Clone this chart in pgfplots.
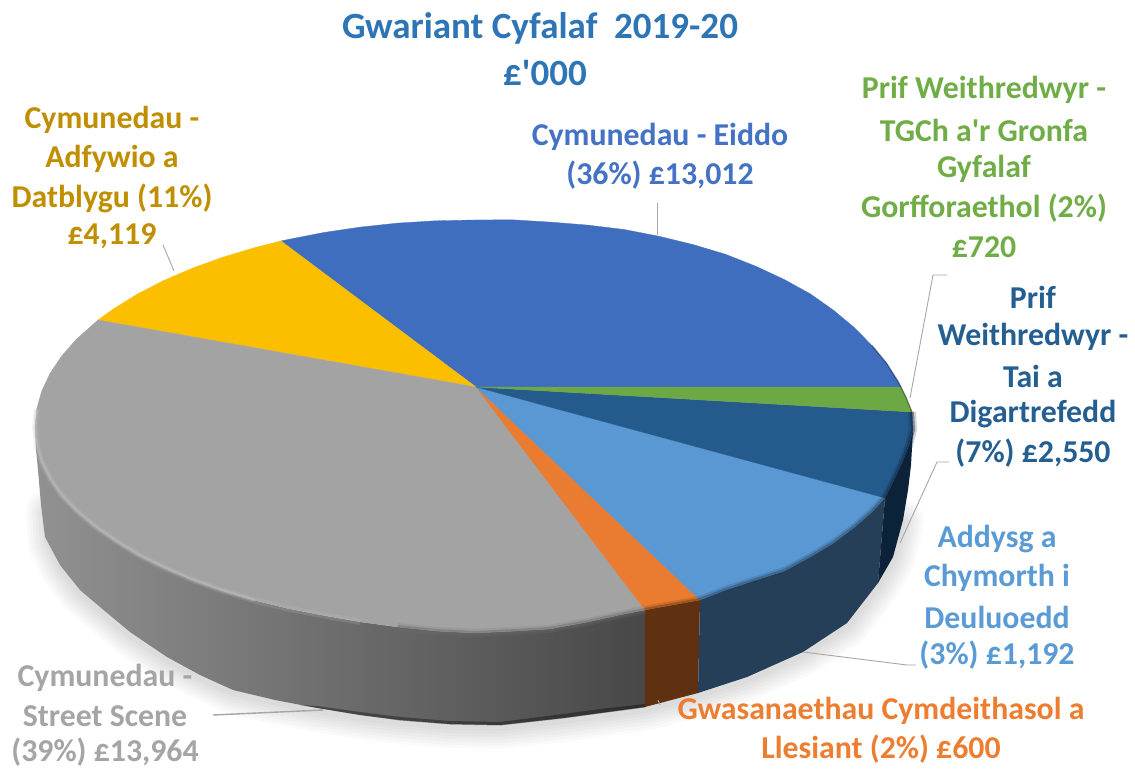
\documentclass[border=0pt]{standalone}
\usepackage{pgfplots}
\usepackage{pgfplotstable}
\pgfplotsset{compat=1.18}
\usepackage{fontspec}
\setmainfont{Carlito}
\definecolor{cBlue}{HTML}{3F6EBE}
\definecolor{cBlueT}{HTML}{4472C4}
\definecolor{cGreen}{HTML}{6CA844}
\definecolor{cGreenT}{HTML}{70AD47}
\definecolor{cNavy}{HTML}{245A8C}
\definecolor{cNavyT}{HTML}{255E91}
\definecolor{cLight}{HTML}{5A98D4}
\definecolor{cLightT}{HTML}{5B9BD5}
\definecolor{cOrange}{HTML}{E97C30}
\definecolor{cOrangeT}{HTML}{ED7D31}
\definecolor{cGrey}{HTML}{A3A3A3}
\definecolor{cGreyT}{HTML}{A5A5A5}
\definecolor{cYellow}{HTML}{FBBF00}
\definecolor{cYellowT}{HTML}{BF8F00}
\definecolor{cTitle}{HTML}{2E75B6}
\definecolor{cLead}{HTML}{A6A6A6}
\definecolor{HTMLOrangeSide}{HTML}{5F3110}
\definecolor{HTMLBlueSide}{HTML}{243F57}
\definecolor{HTMLNavySide}{HTML}{0C2238}
\pgfplotstableread{
x y
48 510
50 540
62 566
80 590
100 607
130 632
167 657
200 675
233 690
275 700
317 708
360 715
400 720
450 724
500 725
563 718
600 713
645 707
698 693
747 677
803 652
847 623
878 583
893 557
902 520
}\shadowedge
\pgfplotstableread{
x y
36.7 409
35 427
36.7 445
41.7 462
50 478.6
61.5 495
76.1 510.5
93.8 525.5
114.4 540
137.7 554.6
163.6 567.4
191.8 579.6
222.2 590.6
254.5 600.3
288.5 608.6
323.9 615.5
360.4 621.9
}\rimleft
\pgfplotstableread{
x y
36.7 409
35 427
36.7 445
41.7 462
50 478.6
61.5 495
76.1 510.5
93.8 525.5
114.4 540
137.7 554.6
163.6 567.4
191.8 579.6
222.2 590.6
254.5 600.3
}\rimleftshort
\pgfplotstableread{
x y
397.8 627
435.7 631
474 633
512.3 631.2
550.2 628.9
587.6 622
624.1 614
645 610
}\rimright
\pgfplotstableread{
x y
700 600
725.8 590
756.2 580
784.4 571
810.3 557
833.6 543
854.2 527.5
871.9 512
885 498
}\rimblue
\pgfplotstableread{
x y
885 498
893 482
902 463
909 445
913 430
912 412
}\rimnavy
\tikzset{lab/.style={inner sep=0pt,font=\fontsize{31.8}{38}\selectfont\bfseries,anchor=center},
ttl/.style={inner sep=0pt,font=\fontsize{37}{44}\selectfont\bfseries,anchor=center,text=cTitle},
shd/.style={draw=black,opacity=0.02,line join=round,line cap=round,yshift=-2pt}}
\begin{document}
\begin{tikzpicture}
\begin{axis}[scale only axis,width=1135pt,height=770pt,xmin=0,xmax=1135,ymin=0,ymax=770,y dir=reverse,
 hide axis,clip=false,no markers]
\addplot[fill=white,draw=none] coordinates {(0,0)(1135,0)(1135,770)(0,770)} --cycle;
% soft shadow
\addplot[shd,line width=44pt] table {\shadowedge};
\addplot[shd,line width=38pt] table {\shadowedge};
\addplot[shd,line width=32pt] table {\shadowedge};
\addplot[shd,line width=26pt] table {\shadowedge};
\addplot[shd,line width=20pt] table {\shadowedge};
\addplot[shd,line width=14pt] table {\shadowedge};
\addplot[shd,line width=8pt] table {\shadowedge};
% sides
\addplot[draw=none,left color=black!43,middle color=black!58,right color=black!72] coordinates {(35,427)(36.7,445)(41.7,462)(50,478.6)(61.5,495)(76.1,510.5)(93.8,525.5)(114.4,540)(137.7,554.6)(163.6,567.4)(191.8,579.6)(222.2,590.6)(254.5,600.3)(288.5,608.6)(323.9,615.5)(360.4,621.9)(397.8,627)(435.7,631)(474,633)(512.3,631.2)(550.2,628.9)(587.6,622)(624.1,614)(645,610)(645,707)(600,713)(563,718)(500,725)(450,724)(400,720)(360,715)(317,708)(275,700)(233,690)(200,675)(167,657)(130,632)(100,607)(80,590)(60,565)(45,537)(41,505)(38,470)(36,450)} --cycle;
\addplot[draw=none,fill=black,opacity=0.35] coordinates {(300,705)(360,715)(400,720.5)(450,724.5)(500,725.5)(563,718.5)(600,713.5)(645,707.5)(645,704)(600,709)(563,714)(500,722)(450,721)(400,717)(360,712)(317,706)} --cycle;
\addplot[draw=none,fill=HTMLOrangeSide] coordinates {(645,610)(700,600)(698,693)(645,707)} --cycle;
\addplot[draw=none,fill=HTMLBlueSide] coordinates {(700,600)(725.8,590)(756.2,580)(784.4,571)(810.3,557)(833.6,543)(854.2,527.5)(871.9,512)(885,498)(878,583)(847,623)(803,652)(747,677)(698,693)} --cycle;
\addplot[draw=none,fill=HTMLNavySide] coordinates {(913,430)(909,445)(902,463)(893,482)(885,498)(878,583)(893,557)(903,520)(908,490)(911,465)} --cycle;
% top
\addplot[fill=cBlue,draw=cBlue,line width=.3pt] coordinates {(476,387)(901,387)(898,381.4)(886.5,363.2)(871.9,345.5)(854.2,327.5)(833.6,310.3)(810.3,293.9)(784.4,279.6)(756.2,266.4)(725.8,254.4)(693.5,244.7)(659.5,236.4)(624.1,229.5)(587.6,225.1)(550.2,222.1)(512.3,219.8)(474,220)(435.7,220.8)(397.8,223.1)(360.4,227.1)(323.9,232.5)(288.5,239.4)(281,241)} --cycle;
\addplot[fill=cYellow,draw=cYellow,line width=.3pt] coordinates {(476,387)(281,241)(254.5,247.7)(222.2,257.4)(191.8,268.4)(163.6,280.6)(137.7,293.9)(114.4,308.3)(98,320)} --cycle;
\addplot[fill=cGrey,draw=cGrey,line width=.3pt] coordinates {(476,387)(98,320)(76.1,339.5)(61.5,356.2)(50,373.4)(41.7,391.1)(36.7,409)(35,427)(36.7,445)(41.7,462)(50,478.6)(61.5,495)(76.1,510.5)(93.8,525.5)(114.4,540)(137.7,554.6)(163.6,567.4)(191.8,579.6)(222.2,590.6)(254.5,600.3)(288.5,608.6)(323.9,615.5)(360.4,621.9)(397.8,627)(435.7,631)(474,633)(512.3,631.2)(550.2,628.9)(587.6,622)(624.1,614)(645,610)} --cycle;
\addplot[fill=cOrange,draw=cOrange,line width=.3pt] coordinates {(476,387)(645,610)(700,600)} --cycle;
\addplot[fill=cLight,draw=cLight,line width=.3pt] coordinates {(476,387)(700,600)(725.8,590)(756.2,580)(784.4,571)(810.3,557)(833.6,543)(854.2,527.5)(871.9,512)(885,498)} --cycle;
\addplot[fill=cNavy,draw=cNavy,line width=.3pt] coordinates {(476,387)(885,498)(893,482)(902,463)(909,445)(913,430)(912,412)} --cycle;
\addplot[fill=cGreen,draw=cGreen,line width=.3pt] coordinates {(476,387)(912,412)(906.3,398)(901,387)} --cycle;
% rim bevel
\addplot[draw=black!22,line width=6pt,opacity=.18] table {\rimleft};
\addplot[draw=black!22,line width=3pt,opacity=.35] table {\rimleftshort};
\addplot[draw=black!55,line width=8pt,opacity=.2] table {\rimright};
\addplot[draw=black!60,line width=4pt,opacity=.4] table {\rimright};
\addplot[draw=HTMLOrangeSide,line width=8pt,opacity=.2] coordinates {(645,610)(700,600)};
\addplot[draw=HTMLOrangeSide,line width=4pt,opacity=.4] coordinates {(645,610)(700,600)};
\addplot[draw=HTMLBlueSide,line width=8pt,opacity=.2] table {\rimblue};
\addplot[draw=HTMLBlueSide,line width=4pt,opacity=.4] table {\rimblue};
\addplot[draw=HTMLNavySide,line width=8pt,opacity=.2] table {\rimnavy};
\addplot[draw=HTMLNavySide,line width=4pt,opacity=.4] table {\rimnavy};
\addplot[draw=black,line width=1.5pt,opacity=.3] coordinates {(912,412)(906.3,398)(898,381.4)(886.5,363.2)(871.9,345.5)};
% leaders
\addplot[draw=cLead,line width=.9pt] coordinates {(163,245)(174,271)};
\addplot[draw=cLead,line width=.9pt] coordinates {(657,203)(657,235)};
\addplot[draw=cLead,line width=.9pt] coordinates {(910,398)(933,275)(947,275)};
\addplot[draw=cLead,line width=.9pt] coordinates {(900,543)(937,462)(949,462)};
\addplot[draw=cLead,line width=.9pt] coordinates {(803,652)(907,665)(916,665)};
\addplot[draw=cLead,line width=.9pt] coordinates {(658,700)(660,705)};
\addplot[draw=cLead,line width=1.4pt] coordinates {(213,715)(323,710)};
% labels
\node[ttl] at (axis cs:540,28) {Gwariant Cyfalaf\ \ 2019-20};
\node[ttl] at (axis cs:545,73) {£\textquotesingle000};
\node[lab,text=cYellowT] at (axis cs:112,120) {Cymunedau -};
\node[lab,text=cYellowT] at (axis cs:112,159) {Adfywio a};
\node[lab,text=cYellowT] at (axis cs:112,198) {Datblygu (11\%)};
\node[lab,text=cYellowT] at (axis cs:112,236) {£4,119};
\node[lab,text=cBlueT] at (axis cs:660,137) {Cymunedau - Eiddo};
\node[lab,text=cBlueT] at (axis cs:660,175) {(36\%) £13,012};
\node[lab,text=cGreenT] at (axis cs:984,90) {Prif Weithredwyr -};
\node[lab,text=cGreenT] at (axis cs:984,130) {TGCh a\textquotesingle r Gronfa};
\node[lab,text=cGreenT] at (axis cs:984,169) {Gyfalaf};
\node[lab,text=cGreenT] at (axis cs:984,208) {Gorfforaethol (2\%)};
\node[lab,text=cGreenT] at (axis cs:984,247) {£720};
\node[lab,text=cNavyT] at (axis cs:1033,297) {Prif};
\node[lab,text=cNavyT] at (axis cs:1033,337) {Weithredwyr -};
\node[lab,text=cNavyT] at (axis cs:1033,376) {Tai a};
\node[lab,text=cNavyT] at (axis cs:1033,414) {Digartrefedd};
\node[lab,text=cNavyT] at (axis cs:1033,453) {(7\%) £2,550};
\node[lab,text=cLightT] at (axis cs:997,539) {Addysg a};
\node[lab,text=cLightT] at (axis cs:997,578) {Chymorth i};
\node[lab,text=cLightT] at (axis cs:997,617) {Deuluoedd};
\node[lab,text=cLightT] at (axis cs:997,655) {(3\%) £1,192};
\node[lab,text=cOrangeT] at (axis cs:881,711) {Gwasanaethau Cymdeithasol a};
\node[lab,text=cOrangeT] at (axis cs:881,749) {Llesiant (2\%) £600};
\node[lab,text=cGreyT] at (axis cs:105,678) {Cymunedau -};
\node[lab,text=cGreyT] at (axis cs:105,716) {Street Scene};
\node[lab,text=cGreyT] at (axis cs:105,752) {(39\%) £13,964};
\end{axis}
\end{tikzpicture}
\end{document}
